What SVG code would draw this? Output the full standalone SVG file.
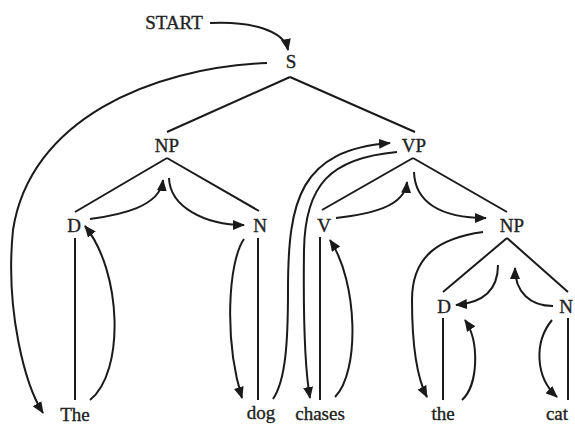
<svg xmlns="http://www.w3.org/2000/svg" width="575" height="425" viewBox="0 0 575 425">
<defs>
<style>
text{font-family:"Liberation Serif","Times New Roman",serif;font-size:19px;fill:#222;stroke:#222;stroke-width:0.35;text-anchor:middle}
.t{stroke:#1a1a1a;stroke-width:2;fill:none}
.a{stroke:#1a1a1a;stroke-width:2;fill:none;marker-end:url(#ah)}
</style>
<marker id="ah" markerWidth="12" markerHeight="10" refX="11" refY="5" orient="auto" markerUnits="userSpaceOnUse">
<path d="M0,0 L12,5 L0,10 Z" fill="#1a1a1a"/>
</marker>
</defs>
<rect width="575" height="425" fill="#fff"/>
<g id="tree-edges">
<path class="t" d="M290 77 L167 132 M290 77 L415 132"/>
<path class="t" d="M167 158 L75 212 M167 158 L259 211"/>
<path class="t" d="M413 158 L322 210 M413 158 L507 212"/>
<path class="t" d="M507 238 L443 292 M507 238 L568 292"/>
<path class="t" d="M75 238 V400 M258 238 V400 M320 237 V400 M443 318 V400 M568 318 V400"/>
</g>
<g id="connectors">
<path class="a" d="M210 23 C250 21 284 30 288 50"/>
<path class="a" d="M267 63 C150 68 30 120 13 230 C5 310 25 385 43 413"/>
<path class="a" d="M90 219 C120 215 160 207 163 180"/>
<path class="a" d="M169 178 C170 207 205 225 244 225"/>
<path class="a" d="M244 239 C228 262 224 340 242 398"/>
<path class="a" d="M90 400 C125 372 122 272 85 226"/>
<path class="a" d="M273 399 C286 380 288 340 288 290 C288 200 300 150 390 143"/>
<path class="a" d="M397 152 C330 158 305 185 304 250 C303 330 305 370 310 398"/>
<path class="a" d="M336 218 C370 214 405 207 407 182"/>
<path class="a" d="M414 172 C415 202 440 218 486 218"/>
<path class="a" d="M335 397 C360 372 358 282 330 240"/>
<path class="a" d="M483 232 C440 238 412 255 412 300 C412 350 418 380 427 397"/>
<path class="a" d="M498 265 C498 292 480 303 456 305"/>
<path class="a" d="M553 306 C530 306 515 292 515 268"/>
<path class="a" d="M462 400 C478 386 480 342 465 320"/>
<path class="a" d="M552 320 C534 342 535 377 557 397"/>
</g>
<g id="start"><text x="174" y="29">START</text></g>
<g id="s"><text x="291" y="68">S</text></g>
<g id="np1"><text x="167" y="152">NP</text></g>
<g id="vp"><text x="414" y="152">VP</text></g>
<g id="d1"><text x="74" y="232">D</text></g>
<g id="n1"><text x="260" y="232">N</text></g>
<g id="v"><text x="324" y="232">V</text></g>
<g id="np2"><text x="512" y="232">NP</text></g>
<g id="d2"><text x="444" y="313">D</text></g>
<g id="n2"><text x="566" y="313">N</text></g>
<g id="w-the1"><text x="75" y="421">The</text></g>
<g id="w-dog"><text x="261" y="419">dog</text></g>
<g id="w-chases"><text x="320" y="420">chases</text></g>
<g id="w-the2"><text x="443" y="420">the</text></g>
<g id="w-cat"><text x="557" y="420">cat</text></g>
</svg>
